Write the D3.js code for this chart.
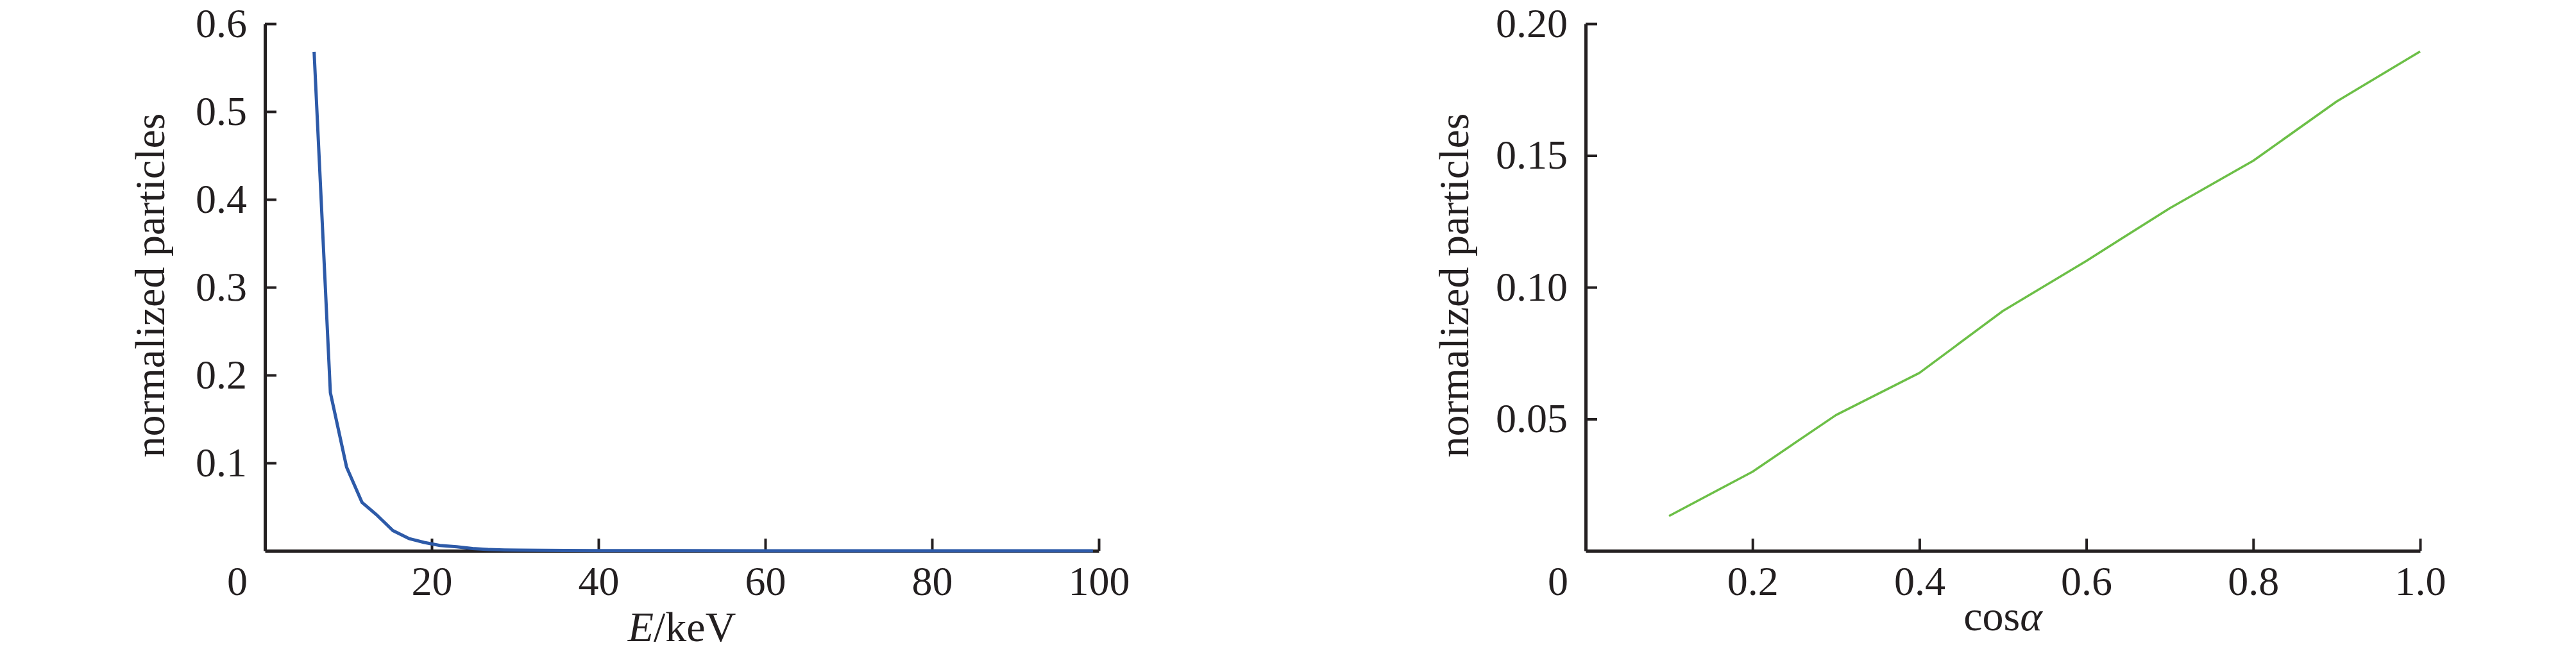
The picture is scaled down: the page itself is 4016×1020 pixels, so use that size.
<!DOCTYPE html>
<html>
<head>
<meta charset="utf-8">
<script src="https://cdn.jsdelivr.net/npm/d3@7"></script>
<style>
  body { margin: 0; background: #fff; }
  svg text { font-family: "Liberation Serif", "Times New Roman", serif; fill: #231f20; }
</style>
</head>
<body>
<svg></svg>
<script>
const width = 4016
const height = 1020

// energy spectrum (left)
const energy = [5.9, 7.85, 9.8, 11.65, 13.5, 15.35, 17.25, 19.1, 21.0, 23.0, 24.9, 26.8, 28.7, 30.5, 33, 36, 40, 50, 60, 70, 80, 90, 99.3]
const energyValues = [0.568, 0.180, 0.095, 0.055, 0.040, 0.023, 0.014, 0.0095, 0.006, 0.0045, 0.0025, 0.0014, 0.001, 0.0007, 0.0005, 0.0003, 0.0002, 0.0001, 0, 0, 0, 0, 0]
const energyTicks = [20, 40, 60, 80, 100]
const energyYTicks = [0.1, 0.2, 0.3, 0.4, 0.5, 0.6]

// angular distribution (right)
const cosAlpha = [0.1, 0.2, 0.3, 0.4, 0.5, 0.6, 0.7, 0.8, 0.9, 1.0]
const cosValues = [0.0132, 0.030, 0.0515, 0.0675, 0.091, 0.110, 0.130, 0.148, 0.1705, 0.1895]
const cosTicks = [0.2, 0.4, 0.6, 0.8, 1.0]
const cosYTicks = [0.05, 0.10, 0.15, 0.20]

const axisColor = '#231f20'
const fontSize = 64

const svg = d3.select('svg').attr('width', width).attr('height', height)

function drawPanel(opts) {
  const x = d3.scaleLinear().domain(opts.xDomain).range([opts.left, opts.right])
  const y = d3.scaleLinear().domain(opts.yDomain).range([859, 37])

  const g = svg.append('g')

  const xAxis = g.append('g')
    .attr('transform', `translate(0,${y(0)})`)
    .call(d3.axisBottom(x).tickValues(opts.xTicks).tickFormat(opts.xFormat)
      .tickSizeInner(-19).tickSizeOuter(0).tickPadding(24))

  const yAxis = g.append('g')
    .attr('transform', `translate(${x(0)},0)`)
    .call(d3.axisLeft(y).tickValues(opts.yTicks).tickFormat(opts.yFormat)
      .tickSizeInner(-18).tickSizeOuter(0).tickPadding(28))

  ;[xAxis, yAxis].forEach(a => {
    a.attr('font-size', null).attr('font-family', null)
    a.select('.domain').attr('stroke', axisColor).attr('stroke-width', 5)
    a.selectAll('.tick line').attr('stroke', axisColor).attr('stroke-width', 4)
    a.selectAll('.tick text').style('font-size', fontSize + 'px').attr('fill', axisColor)
  })

  // shared origin label
  g.append('text')
    .attr('x', x(0) - 27)
    .attr('y', 928)
    .attr('text-anchor', 'end')
    .style('font-size', fontSize + 'px')
    .text('0')

  // y title
  g.append('text')
    .attr('transform', `translate(${x(0) - opts.yTitleOffset},445) rotate(-90)`)
    .attr('text-anchor', 'middle')
    .style('font-size', '66px')
    .text('normalized particles')

  // x title
  const xt = g.append('text')
    .attr('x', (opts.left + opts.right) / 2)
    .attr('y', opts.xTitleY)
    .attr('text-anchor', 'middle')
    .style('font-size', '66px')
  opts.xTitle(xt)

  const line = d3.line().x(d => x(d[0])).y(d => y(d[1]))

  g.append('path')
    .datum(d3.zip(opts.xs, opts.ys))
    .attr('fill', 'none')
    .attr('stroke', opts.color)
    .attr('stroke-width', opts.strokeWidth)
    .attr('stroke-linejoin', 'round')
    .attr('d', line)
}

drawPanel({
  xDomain: [0, 100], yDomain: [0, 0.6],
  left: 413, right: 1713,
  xTicks: energyTicks, yTicks: energyYTicks,
  xFormat: d3.format('d'), yFormat: d3.format('.1f'),
  xs: energy, ys: energyValues,
  color: '#2d5aa8', strokeWidth: 5,
  yTitleOffset: 157, xTitleY: 1000,
  xTitle: t => {
    t.append('tspan').style('font-style', 'italic').text('E')
    t.append('tspan').text('/keV')
  }
})

drawPanel({
  xDomain: [0, 1], yDomain: [0, 0.2],
  left: 2472, right: 3773,
  xTicks: cosTicks, yTicks: cosYTicks,
  xFormat: d3.format('.1f'), yFormat: d3.format('.2f'),
  xs: cosAlpha, ys: cosValues,
  color: '#6cbf47', strokeWidth: 3.5,
  yTitleOffset: 183, xTitleY: 983,
  xTitle: t => {
    t.append('tspan').text('cos')
    t.append('tspan').style('font-style', 'italic').text('α')
  }
})
</script>
</body>
</html>
